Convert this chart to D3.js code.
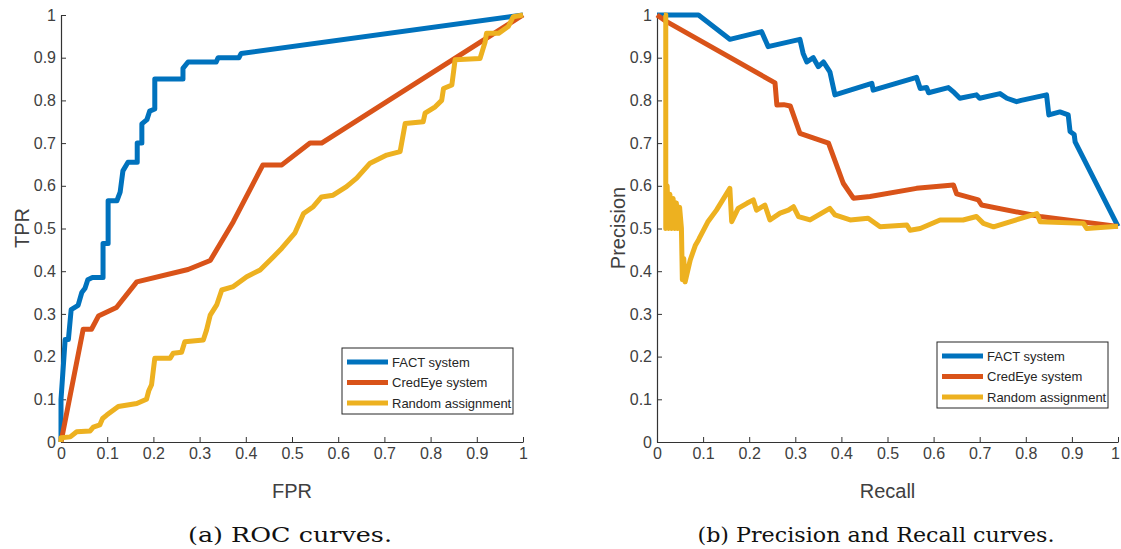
<!DOCTYPE html>
<html>
<head>
<meta charset="utf-8">
<script src="https://cdn.jsdelivr.net/npm/d3@7"></script>
<style>
  html, body { margin: 0; padding: 0; background: #fff; }
  svg { display: block; }
</style>
</head>
<body>
<svg id="chart" width="1121" height="549"></svg>
<script>
// ---------------- DATA ----------------
const seriesNames = ["FACT system", "CredEye system", "Random assignment"];
const seriesColors = ["#0072BD", "#D95319", "#EDB120"];
const tickValues = [0, 0.1, 0.2, 0.3, 0.4, 0.5, 0.6, 0.7, 0.8, 0.9, 1];
const tickLabels = ["0", "0.1", "0.2", "0.3", "0.4", "0.5", "0.6", "0.7", "0.8", "0.9", "1"];

// ROC curves: [FPR, TPR]
const rocFact = [[0,0],[0,0.1],[0.009,0.24],[0.016,0.24],[0.022,0.31],[0.037,0.32],[0.045,0.35],[0.052,0.36],[0.058,0.38],[0.068,0.385],[0.091,0.385],[0.091,0.465],[0.102,0.465],[0.102,0.565],[0.121,0.565],[0.128,0.585],[0.134,0.635],[0.145,0.655],[0.165,0.655],[0.165,0.70],[0.175,0.70],[0.175,0.745],[0.186,0.755],[0.192,0.775],[0.203,0.78],[0.203,0.85],[0.264,0.85],[0.264,0.875],[0.275,0.89],[0.336,0.89],[0.34,0.90],[0.385,0.90],[0.39,0.91],[1,1]];
const rocCredEye = [[0,0],[0.048,0.264],[0.066,0.264],[0.081,0.295],[0.12,0.315],[0.164,0.375],[0.275,0.404],[0.323,0.425],[0.373,0.516],[0.437,0.649],[0.478,0.649],[0.539,0.70],[0.564,0.70],[1,1]];
const rocRandom = [[0,0],[0,0.01],[0.02,0.012],[0.034,0.024],[0.063,0.026],[0.07,0.035],[0.084,0.04],[0.09,0.055],[0.099,0.063],[0.124,0.083],[0.164,0.09],[0.185,0.10],[0.19,0.12],[0.196,0.134],[0.203,0.196],[0.236,0.196],[0.243,0.208],[0.261,0.21],[0.268,0.235],[0.308,0.239],[0.315,0.262],[0.323,0.297],[0.337,0.321],[0.348,0.356],[0.373,0.364],[0.402,0.387],[0.431,0.403],[0.46,0.434],[0.478,0.454],[0.506,0.489],[0.525,0.535],[0.546,0.551],[0.564,0.574],[0.589,0.578],[0.618,0.598],[0.64,0.618],[0.669,0.653],[0.705,0.672],[0.734,0.68],[0.745,0.746],[0.784,0.75],[0.788,0.77],[0.81,0.785],[0.824,0.80],[0.828,0.828],[0.846,0.836],[0.853,0.895],[0.907,0.898],[0.918,0.937],[0.921,0.957],[0.947,0.957],[0.968,0.973],[0.979,0.996],[1,1]];

// Precision-Recall curves: [Recall, Precision]
const prFact = [[0,1],[0.09,1],[0.158,0.943],[0.227,0.961],[0.241,0.926],[0.31,0.943],[0.317,0.91],[0.325,0.89],[0.339,0.90],[0.35,0.879],[0.361,0.89],[0.375,0.867],[0.386,0.813],[0.419,0.824],[0.466,0.84],[0.469,0.824],[0.563,0.854],[0.571,0.828],[0.585,0.83],[0.589,0.818],[0.632,0.83],[0.645,0.818],[0.657,0.805],[0.693,0.813],[0.70,0.805],[0.744,0.816],[0.759,0.805],[0.78,0.797],[0.79,0.80],[0.845,0.813],[0.85,0.766],[0.874,0.773],[0.892,0.766],[0.896,0.727],[0.905,0.72],[0.907,0.703],[1,0.505]];
const prCredEye = [[0,1],[0.02,0.985],[0.256,0.841],[0.26,0.789],[0.275,0.79],[0.289,0.787],[0.31,0.723],[0.372,0.70],[0.404,0.606],[0.426,0.571],[0.462,0.575],[0.563,0.594],[0.643,0.602],[0.65,0.581],[0.697,0.567],[0.704,0.555],[0.831,0.528],[1,0.505]];
const prRandom = [[0.015,1],[0.019,1],[0.019,0.5],[0.022,0.6],[0.025,0.5],[0.028,0.58],[0.031,0.5],[0.035,0.57],[0.038,0.5],[0.042,0.56],[0.045,0.5],[0.049,0.55],[0.053,0.5],[0.055,0.38],[0.058,0.43],[0.061,0.375],[0.072,0.426],[0.083,0.46],[0.09,0.473],[0.093,0.48],[0.11,0.515],[0.129,0.543],[0.158,0.594],[0.162,0.516],[0.176,0.547],[0.195,0.559],[0.209,0.567],[0.216,0.543],[0.234,0.555],[0.245,0.52],[0.267,0.536],[0.285,0.543],[0.296,0.551],[0.307,0.528],[0.332,0.52],[0.375,0.547],[0.386,0.532],[0.419,0.52],[0.458,0.524],[0.484,0.504],[0.542,0.508],[0.549,0.496],[0.571,0.50],[0.614,0.52],[0.664,0.52],[0.693,0.528],[0.708,0.512],[0.73,0.504],[0.824,0.535],[0.831,0.516],[0.925,0.512],[0.932,0.50],[1,0.505]];

// ---------------- DRAW ----------------
const svg = d3.select("#chart");
const axisColor = "#333333";
const textColor = "#404040";

function panel(cfg) {
  const x = d3.scaleLinear().domain([0, 1]).range([cfg.x0, cfg.x1]);
  const y = d3.scaleLinear().domain([0, 1]).range([442, 15]);
  const g = svg.append("g");

  const fmt = d => tickLabels[tickValues.indexOf(d)];
  const xAxis = g.append("g").attr("transform", "translate(0,442)")
    .call(d3.axisBottom(x).tickValues(tickValues).tickFormat(fmt).tickSizeInner(-5).tickSizeOuter(0).tickPadding(6));
  const yAxis = g.append("g").attr("transform", `translate(${cfg.x0},0)`)
    .call(d3.axisLeft(y).tickValues(tickValues).tickFormat(fmt).tickSizeInner(-5).tickSizeOuter(0).tickPadding(5));
  [xAxis, yAxis].forEach(a => {
    a.selectAll("path.domain").attr("stroke", axisColor).attr("stroke-width", 1.2);
    a.selectAll(".tick line").attr("stroke", axisColor).attr("stroke-width", 1);
    a.selectAll(".tick text").attr("fill", textColor)
      .style("font-family", "'Liberation Sans', Arial, sans-serif").style("font-size", "16px");
  });
  if (cfg.nudgeLast) {
    xAxis.selectAll(".tick text").filter(d => d === 1).attr("dx", -3);
  }

  const line = d3.line().x(d => x(d[0])).y(d => y(d[1]));
  cfg.series.forEach((s, i) => {
    g.append("path").datum(s)
      .attr("d", line)
      .attr("fill", "none")
      .attr("stroke", seriesColors[i])
      .attr("stroke-width", 5)
      .attr("stroke-linejoin", "round")
      .attr("stroke-linecap", "butt");
  });

  // axis titles
  g.append("text")
    .attr("x", (cfg.x0 + cfg.x1) / 2).attr("y", 498)
    .attr("text-anchor", "middle").attr("fill", textColor)
    .style("font-family", "'Liberation Sans', Arial, sans-serif").style("font-size", "20px")
    .text(cfg.xLabel);
  g.append("text")
    .attr("transform", `translate(${cfg.yLabelX},228) rotate(-90)`)
    .attr("text-anchor", "middle").attr("fill", textColor)
    .style("font-family", "'Liberation Sans', Arial, sans-serif").style("font-size", "20px")
    .text(cfg.yLabel);

  // legend
  const lg = g.append("g").attr("transform", `translate(${cfg.legX},${cfg.legY})`);
  lg.append("rect").attr("x", 0).attr("y", 0).attr("width", cfg.legW).attr("height", 66)
    .attr("fill", "#fff").attr("stroke", "#262626").attr("stroke-width", 1);
  seriesNames.forEach((name, i) => {
    const cy = 14 + i * 20.5;
    lg.append("line").attr("x1", 5).attr("x2", 46).attr("y1", cy).attr("y2", cy)
      .attr("stroke", seriesColors[i]).attr("stroke-width", 5);
    lg.append("text").attr("x", 50).attr("y", cy).attr("dy", "0.35em")
      .attr("fill", "#262626")
      .style("font-family", "'Liberation Sans', Arial, sans-serif").style("font-size", "13px")
      .text(name);
  });

  // caption
  svg.append("text")
    .attr("x", cfg.capX).attr("y", 542)
    .attr("text-anchor", "middle").attr("fill", "#111")
    .attr("textLength", cfg.capW).attr("lengthAdjust", "spacingAndGlyphs")
    .style("font-family", "'DejaVu Serif', serif").style("font-size", "21px")
    .text(cfg.caption);
}

panel({
  x0: 61, x1: 523, series: [rocFact, rocCredEye, rocRandom],
  xLabel: "FPR", yLabel: "TPR", yLabelX: 29,
  legX: 342, legY: 348, legW: 171,
  caption: "(a) ROC curves.", capX: 290, capW: 204, nudgeLast: false
});
panel({
  x0: 657, x1: 1118, series: [prFact, prCredEye, prRandom],
  xLabel: "Recall", yLabel: "Precision", yLabelX: 625,
  legX: 937, legY: 342, legW: 171,
  caption: "(b) Precision and Recall curves.", capX: 876, capW: 357, nudgeLast: true
});
</script>
</body>
</html>
